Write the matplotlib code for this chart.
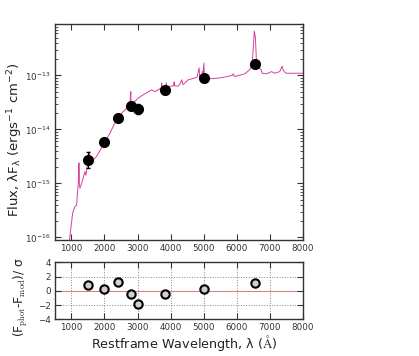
import matplotlib
matplotlib.use("Agg")
import matplotlib.pyplot as plt
import numpy as np

# Photometry
phot_wave = [1500, 1970, 2400, 2800, 3020, 3820, 5000, 6560]
phot_flux = [2.7e-15, 5.9e-15, 1.6e-14, 2.7e-14, 2.4e-14, 5.3e-14, 9.0e-14, 1.6e-13]
phot_err_lo = [0.8e-15, 0.3e-15, 0.6e-15, 1.0e-15, 0.45e-14, 1.5e-15, 2.0e-15, 3.0e-15]
phot_err_hi = [1.1e-15, 0.3e-15, 0.6e-15, 1.0e-15, 0.5e-14, 1.5e-15, 2.0e-15, 3.0e-15]
residuals = [0.8, 0.2, 1.3, -0.5, -1.9, -0.4, 0.2, 1.1]

# Model spectrum
spec_wave = [920, 1035, 1060, 1105, 1156, 1205, 1218, 1226, 1240, 1256, 1307, 1356, 1407,
             1437, 1477, 1520, 1545, 1558, 1575, 1609, 1760, 1960, 2163, 2365, 2516,
             2668, 2770, 2795, 2800, 2810, 2920, 3020, 3170, 3420, 3524, 3725, 3728,
             3735, 3860, 3870, 3880, 3980, 4100, 4105, 4110, 4230, 4280, 4340, 4360,
             4380, 4530, 4730, 4800, 4861, 4875, 4885, 4950, 4959, 4970, 5007, 5020,
             5036, 5440, 5640, 5870, 5890, 5940, 6245, 6400, 6467, 6530, 6563, 6600,
             6730, 6770, 6900, 7050, 7150, 7300, 7370, 7400, 7430, 7500, 7960, 8000]
spec_logf = [-16.15, -15.56, -15.50, -15.43, -15.40, -15.00, -14.90, -14.62, -15.00, -15.09,
             -15.00, -14.90, -14.78, -14.85, -14.69, -14.60, -14.41, -14.55, -14.62, -14.60,
             -14.50, -14.29, -14.07, -13.82, -13.70, -13.61, -13.55, -13.30, -13.52, -13.55,
             -13.48, -13.42, -13.36, -13.27, -13.30, -13.23, -13.14, -13.23, -13.22, -13.14,
             -13.22, -13.20, -13.19, -13.12, -13.19, -13.20, -13.16, -13.08, -13.15, -13.17,
             -13.08, -13.05, -13.03, -12.86, -13.02, -13.02, -13.01, -12.93, -13.02, -12.77,
             -13.05, -13.07, -13.05, -13.03, -13.00, -12.97, -13.02, -12.97, -12.89, -12.77,
             -12.18, -12.30, -12.83, -12.89, -12.96, -12.97, -12.93, -12.96, -12.93, -12.83,
             -12.90, -12.93, -12.96, -12.96, -12.96]

plt.rcParams['mathtext.fontset'] = 'cm'
plt.rcParams['mathtext.default'] = 'regular'

W, H = 419, 356
fig = plt.figure(figsize=(W / 100, H / 100), dpi=100)
ax1 = fig.add_axes([0.131, 0.326, 0.592, 0.607])
ax2 = fig.add_axes([0.131, 0.103, 0.592, 0.160])

spec_flux = 10 ** np.array(spec_logf)
ax1.plot(spec_wave, spec_flux, color='#d8409e', lw=0.7, zorder=1)
ax1.errorbar(phot_wave, phot_flux, yerr=[phot_err_lo, phot_err_hi], fmt='o',
             color='black', ms=7, elinewidth=0.8, capsize=1.5, zorder=3)
ax1.set_yscale('log')
ax1.set_xlim(500, 8000)
ax1.set_ylim(9e-17, 9e-13)
ax1.set_xticks([1000, 2000, 3000, 4000, 5000, 6000, 7000, 8000])

ax2.axhline(0, color='#ff8080', lw=0.8, zorder=1)
ax2.scatter(phot_wave, residuals, s=36, facecolor='#d0d0d0', edgecolor='black',
            linewidths=1.5, zorder=3)
ax2.set_xlim(500, 8000)
ax2.set_ylim(-4, 4)
ax2.set_yticks([-4, -2, 0, 2, 4])
ax2.set_xticks([1000, 2000, 3000, 4000, 5000, 6000, 7000, 8000])
ax2.grid(True, linestyle=':', color='#888888', lw=0.7)

fig.text(15 / W, 1 - 140 / H, r'Flux, $\lambda$F$_\lambda$ (ergs$^{-1}$ cm$^{-2}$)',
         rotation=90, ha='center', va='center', fontsize=9.5, color='#222222')
fig.text(21 / W, 1 - 297 / H, r'(F$_{\rm phot}$-F$_{\rm mod}$)/ $\sigma$',
         rotation=90, ha='center', va='center', fontsize=8.8, color='#222222')
fig.text(184 / W, 1 - 343 / H, r'Restframe Wavelength, $\lambda$ ($\rm\AA$)',
         ha='center', va='center', fontsize=9.2, color='#222222')

for ax in (ax1, ax2):
    ax.tick_params(which='both', direction='in', top=True, right=True,
                   labelsize=6.3, colors='#333333', labelcolor='#333333', pad=3)
    ax.tick_params(which='major', length=4)
    ax.tick_params(which='minor', length=2)
    for s in ax.spines.values():
        s.set_color('#333333')
        s.set_linewidth(1.0)

fig.savefig('out.png', dpi=100)
